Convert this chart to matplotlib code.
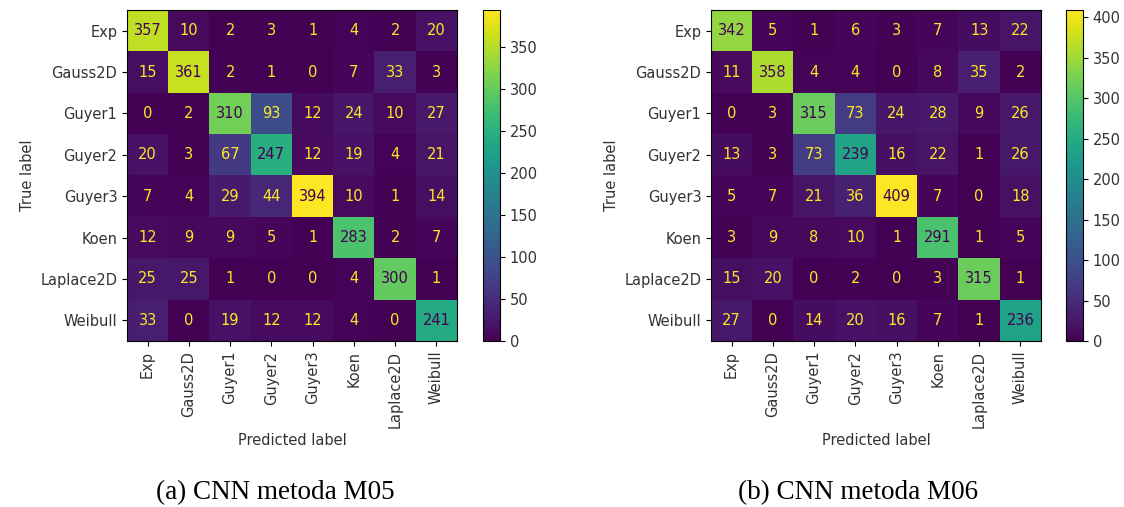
import matplotlib.pyplot as plt
import numpy as np

labels = ['Exp', 'Gauss2D', 'Guyer1', 'Guyer2', 'Guyer3', 'Koen', 'Laplace2D', 'Weibull']

cm_m05 = [
    [357, 10, 2, 3, 1, 4, 2, 20],
    [15, 361, 2, 1, 0, 7, 33, 3],
    [0, 2, 310, 93, 12, 24, 10, 27],
    [20, 3, 67, 247, 12, 19, 4, 21],
    [7, 4, 29, 44, 394, 10, 1, 14],
    [12, 9, 9, 5, 1, 283, 2, 7],
    [25, 25, 1, 0, 0, 4, 300, 1],
    [33, 0, 19, 12, 12, 4, 0, 241],
]

cm_m06 = [
    [342, 5, 1, 6, 3, 7, 13, 22],
    [11, 358, 4, 4, 0, 8, 35, 2],
    [0, 3, 315, 73, 24, 28, 9, 26],
    [13, 3, 73, 239, 16, 22, 1, 26],
    [5, 7, 21, 36, 409, 7, 0, 18],
    [3, 9, 8, 10, 1, 291, 1, 5],
    [15, 20, 0, 2, 0, 3, 315, 1],
    [27, 0, 14, 20, 16, 7, 1, 236],
]

captions = ['(a) CNN metoda M05', '(b) CNN metoda M06']

W, H = 1124, 507


def draw_cm(fig, cm, ax_px, cb_px, caption, cap_x):
    cm = np.array(cm)
    ax = fig.add_axes([ax_px[0] / W, 1 - (ax_px[1] + ax_px[3]) / H, ax_px[2] / W, ax_px[3] / H])
    cax = fig.add_axes([cb_px[0] / W, 1 - (cb_px[1] + cb_px[3]) / H, cb_px[2] / W, cb_px[3] / H])
    cmap = plt.get_cmap('viridis')
    im = ax.imshow(cm, cmap=cmap, interpolation='nearest', aspect='auto')
    # light text on dark cells, dark text on bright cells
    thresh = (cm.max() + cm.min()) / 2
    for i in range(cm.shape[0]):
        for j in range(cm.shape[1]):
            color = cmap(0.0) if cm[i, j] >= thresh else cmap(1.0)
            ax.text(j, i, str(cm[i, j]), ha='center', va='center', color=color, fontsize=10.5)
    ax.set_xticks(range(len(labels)))
    ax.set_yticks(range(len(labels)))
    ax.set_xticklabels(labels, rotation=90, fontsize=10.5, color='#333333')
    ax.set_yticklabels(labels, fontsize=10.5, color='#333333')
    ax.set_xlabel('Predicted label', fontsize=10.5, color='#333333')
    ax.set_ylabel('True label', fontsize=10.5, color='#333333')
    cb = fig.colorbar(im, cax=cax)
    cb.set_ticks(np.arange(0, cm.max() + 1, 50))
    cb.ax.tick_params(labelsize=10.5, labelcolor='#333333')
    fig.text(cap_x / W, 1 - 493 / H, caption, ha='center', va='center',
             fontsize=19.5, family='Liberation Serif')


def main():
    fig = plt.figure(figsize=(W / 100, H / 100), dpi=100)
    draw_cm(fig, cm_m05, (127, 10, 330, 331), (483, 10, 17, 331), captions[0], 275)
    draw_cm(fig, cm_m06, (711, 10, 330, 331), (1066, 10, 17, 331), captions[1], 858)
    fig.savefig('out.png', dpi=100)


if __name__ == '__main__':
    main()
